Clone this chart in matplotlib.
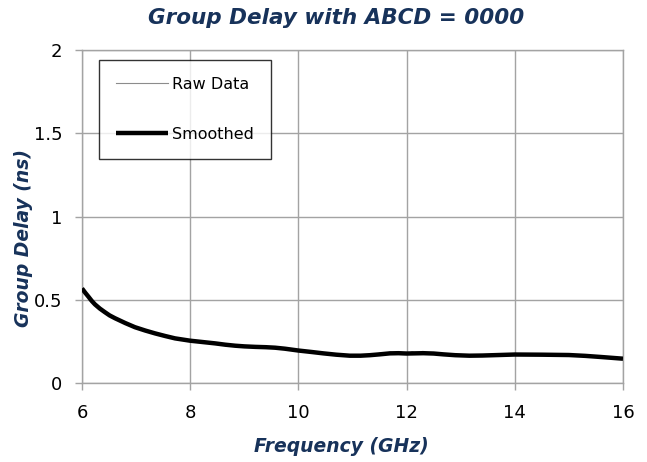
import matplotlib
matplotlib.use("Agg")
import matplotlib.pyplot as plt

# ---- data ----
freq_smooth = [6.0, 6.06, 6.12, 6.18, 6.24, 6.33, 6.42, 6.51, 6.61, 6.8,
               6.98, 7.17, 7.35, 7.54, 7.72, 8.0, 8.23, 8.46, 8.65, 8.83,
               9.0, 9.2, 9.4, 9.57, 9.75, 10.0, 10.25, 10.46, 10.7, 10.95,
               11.15, 11.32, 11.5, 11.69, 11.85, 12.0, 12.15, 12.31, 12.5,
               12.68, 12.9, 13.16, 13.4, 13.7, 14.0, 14.5, 15.0, 15.3,
               15.6, 16.0]
delay_smooth = [0.568, 0.542, 0.518, 0.493, 0.472, 0.447, 0.426, 0.406,
                0.389, 0.360, 0.335, 0.315, 0.298, 0.282, 0.268, 0.254,
                0.246, 0.238, 0.230, 0.224, 0.220, 0.217, 0.215, 0.212,
                0.206, 0.195, 0.186, 0.178, 0.170, 0.164, 0.164, 0.167,
                0.172, 0.178, 0.179, 0.177, 0.178, 0.179, 0.177, 0.172,
                0.167, 0.164, 0.165, 0.168, 0.171, 0.170, 0.168, 0.163,
                0.156, 0.146]

freq_raw = [6.0, 6.12, 6.24, 6.42, 6.61, 6.8, 6.98, 7.35, 7.72, 8.0, 8.46,
            8.83, 9.2, 9.57, 10.0, 10.46, 10.95, 11.15, 11.3, 11.4, 11.5,
            11.6, 11.7, 11.8, 11.9, 12.0, 12.1, 12.2, 12.3, 12.4, 12.5,
            12.6, 12.7, 12.85, 13.16, 13.7, 14.0, 15.0, 15.6, 16.0]
delay_raw = [0.568, 0.518, 0.472, 0.426, 0.389, 0.360, 0.335, 0.298, 0.268,
             0.254, 0.238, 0.224, 0.217, 0.212, 0.195, 0.178, 0.164, 0.160,
             0.170, 0.163, 0.180, 0.171, 0.186, 0.174, 0.185, 0.171, 0.188,
             0.175, 0.190, 0.173, 0.183, 0.170, 0.177, 0.166, 0.164, 0.168,
             0.171, 0.168, 0.156, 0.146]

x_ticks = [6, 8, 10, 12, 14, 16]
y_ticks = [0, 0.5, 1, 1.5, 2]
y_tick_labels = ["0", "0.5", "1", "1.5", "2"]

title = "Group Delay with ABCD = 0000"
x_label = "Frequency (GHz)"
y_label = "Group Delay (ns)"
labels = ["Raw Data", "Smoothed"]

navy = "#17325A"
grid_c = "#A3A3A3"

plt.rcParams["font.family"] = ["DejaVu Sans"]

fig = plt.figure(figsize=(6.47, 4.62), dpi=100)
ax = fig.add_axes([82 / 647, 1 - 383 / 462, 541 / 647, 333 / 462])

ax.plot(freq_raw, delay_raw, color="#8C8C8C", lw=0.8, label=labels[0], zorder=3)
ax.plot(freq_smooth, delay_smooth, color="black", lw=3.2, label=labels[1],
        zorder=4, solid_capstyle="butt", solid_joinstyle="round")

ax.set_xlim(6, 16)
ax.set_ylim(0, 2)
ax.set_xticks(x_ticks)
ax.set_yticks(y_ticks)
ax.set_yticklabels(y_tick_labels)
ax.grid(True, color=grid_c, lw=1.0)
ax.set_axisbelow(True)
for s in ["left", "bottom", "top", "right"]:
    ax.spines[s].set_color(grid_c)
    ax.spines[s].set_linewidth(1.0)
ax.tick_params(axis="both", colors=grid_c, labelcolor="black", labelsize=13,
               length=5, width=1.0, direction="out")
ax.tick_params(axis="x", pad=10)
ax.tick_params(axis="y", pad=9)

leg = ax.legend(loc="upper left", bbox_to_anchor=(0.0314, 0.970), frameon=True,
                fancybox=False, edgecolor="black", fontsize=11.5,
                labelspacing=2.2, handlelength=3.3, handletextpad=0.25,
                borderpad=1.05, borderaxespad=0)
leg.get_frame().set_linewidth(1.0)

fig.text(336 / 647, 1 - 18 / 462, title, ha="center", va="center",
         fontsize=15.5, fontweight="bold", fontstyle="italic", color=navy)
fig.text(341 / 647, 1 - 447 / 462, x_label, ha="center", va="center",
         fontsize=13.5, fontweight="bold", fontstyle="italic", color=navy)
fig.text(24 / 647, 1 - 238 / 462, y_label, ha="center", va="center",
         rotation=90, fontsize=13.5, fontweight="bold", fontstyle="italic",
         color=navy)

fig.savefig("out.png", dpi=100)
